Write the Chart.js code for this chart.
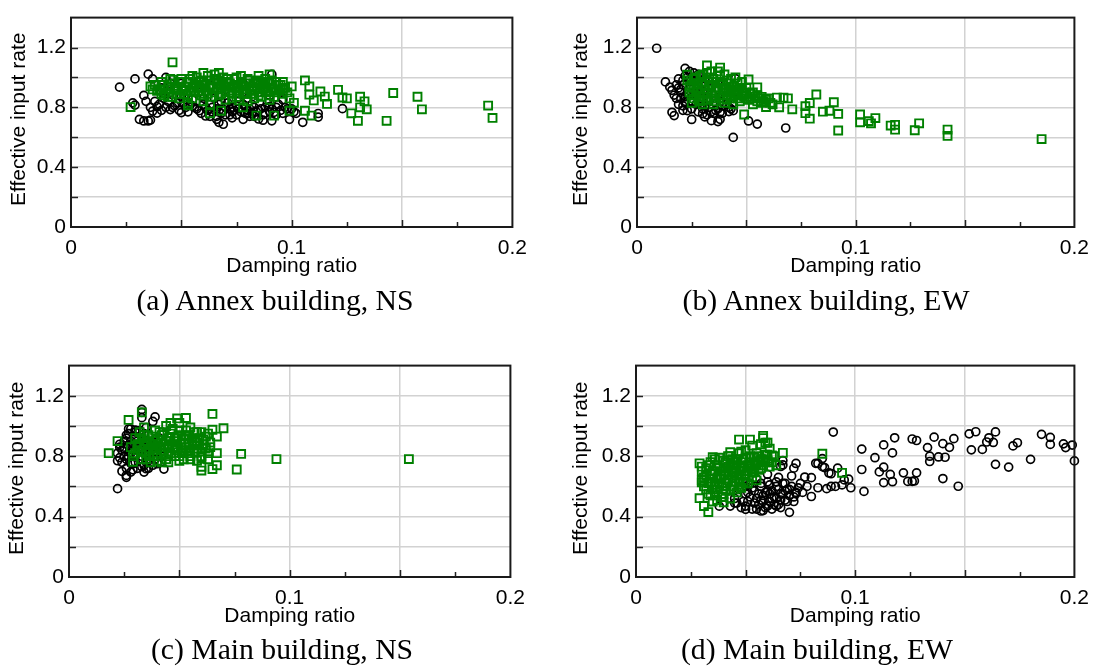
<!DOCTYPE html>
<html>
<head>
<meta charset="utf-8">
<script src="https://cdn.jsdelivr.net/npm/chart.js@4.4.1/dist/chart.umd.min.js"></script>
<style>
  body { margin: 0; background: #fff; width: 1101px; height: 668px; position: relative; overflow: hidden; }
  .panel { position: absolute; }
  .caption {
    position: absolute;
    font-family: "Liberation Serif", "Times New Roman", serif;
    font-size: 29.7px;
    line-height: 32px;
    white-space: nowrap;
    color: #000;
    transform: translateX(-50%);
  }
</style>
</head>
<body>
<div class="panel" id="pa"><canvas id="ca"></canvas></div>
<div class="panel" id="pb"><canvas id="cb"></canvas></div>
<div class="panel" id="pc"><canvas id="cc"></canvas></div>
<div class="panel" id="pd"><canvas id="cd"></canvas></div>
<div class="caption" style="left:275px;top:283.5px">(a) Annex building, NS</div>
<div class="caption" style="left:826px;top:283.5px">(b) Annex building, EW</div>
<div class="caption" style="left:282px;top:632.5px">(c) Main building, NS</div>
<div class="caption" style="left:817px;top:632.5px">(d) Main building, EW</div>
<script>
// tick labels
const xTickLabels = ["0", "0.1", "0.2"]
const yTickLabels = ["0", "0.4", "0.8", "1.2"]
const xTitle = "Damping ratio"
const yTitle = "Effective input rate"

// (a) Annex building, NS  -- [damping ratio, effective input rate]
const annexNsBlack = [
  [0.022,0.935],[0.029,0.99],[0.035,1.022],[0.028,0.83],[0.029,0.815],[0.033,0.88],[0.034,0.84],[0.031,0.72],
  [0.033,0.709],[0.035,0.709],[0.036,0.715],[0.037,0.775],[0.039,0.805],[0.039,0.762],[0.037,0.99],[0.043,1.0],
  [0.045,0.785],[0.046,0.8],[0.05,0.765],[0.055,0.809],[0.058,0.778],[0.061,0.742],[0.066,0.72],[0.067,0.7],
  [0.069,0.687],[0.073,0.8],[0.076,0.84],[0.078,0.72],[0.08,0.757],[0.083,0.74],[0.085,0.722],[0.087,0.714],
  [0.09,0.805],[0.092,0.767],[0.091,0.71],[0.099,0.72],[0.105,0.7],[0.112,0.735],[0.112,0.759],[0.123,0.791],
  [0.091,1.02],[0.04,0.82],[0.042,0.86],[0.045,0.9],[0.048,0.83],[0.05,0.87],[0.052,0.8],[0.055,0.85],
  [0.057,0.79],[0.06,0.82],[0.062,0.78],[0.064,0.8],[0.065,0.86],[0.068,0.76],[0.07,0.8],[0.071,0.83],
  [0.072,0.75],[0.074,0.78],[0.075,0.81],[0.077,0.77],[0.079,0.8],[0.08,0.78],[0.082,0.82],[0.084,0.77],
  [0.086,0.79],[0.088,0.76],[0.089,0.83],[0.093,0.8],[0.095,0.78],[0.096,0.85],[0.098,0.79],[0.101,0.77],
  [0.058,0.9],[0.063,0.95],[0.07,0.92],[0.078,0.96],[0.085,0.9],[0.05,0.96],[0.045,0.96],[0.041,0.93],
  [0.066,0.74],[0.073,0.73],[0.081,0.74],
  [0.041,0.78],[0.043,0.8],[0.044,0.84],[0.047,0.81],[0.049,0.78],[0.051,0.83],[0.053,0.77],[0.054,0.82],
  [0.056,0.8],[0.059,0.76],[0.061,0.8],[0.063,0.74],[0.064,0.77],[0.066,0.79],[0.067,0.82],[0.069,0.78],
  [0.07,0.75],[0.072,0.79],[0.073,0.77],[0.075,0.75],[0.076,0.79],[0.078,0.82],[0.079,0.76],[0.081,0.79],
  [0.082,0.76],[0.083,0.8],[0.085,0.78],[0.087,0.75],[0.088,0.8],[0.09,0.77],[0.091,0.79],[0.093,0.75],
  [0.094,0.82],[0.096,0.76],[0.097,0.8],[0.1,0.79],[0.102,0.76],[0.06,0.86],[0.068,0.84],[0.08,0.86],
  [0.09,0.88],[0.095,0.9],[0.048,0.88],[0.038,0.84],[0.036,0.8]
]
const annexNsGreen = [
  [0.046,1.101],[0.027,0.802],[0.036,0.94],[0.046,0.984],[0.106,0.98],[0.108,0.94],[0.108,0.885],[0.113,0.906],
  [0.11,0.846],[0.115,0.872],[0.116,0.823],[0.106,0.777],[0.109,0.745],[0.1,0.94],[0.101,0.83],[0.099,0.777],
  [0.121,0.917],[0.123,0.866],[0.125,0.86],[0.127,0.76],[0.131,0.871],[0.131,0.8],[0.133,0.84],[0.134,0.787],
  [0.13,0.71],[0.143,0.71],[0.146,0.896],[0.157,0.871],[0.159,0.787],[0.189,0.812],[0.191,0.729],[0.09,1.02],
  [0.084,0.745],[0.092,0.745],[0.076,0.846],[0.078,0.8],[0.068,0.777],[0.063,0.76],[0.053,0.814],[0.06,1.03],
  [0.067,1.03],[0.096,0.925],[0.038,0.95],[0.04,0.92],[0.041,0.97],[0.043,0.9],[0.044,0.94],[0.046,0.87],
  [0.047,0.96],[0.048,0.92],[0.05,0.99],[0.051,0.89],[0.052,0.94],[0.053,0.97],[0.054,0.91],[0.055,0.86],
  [0.056,0.95],[0.057,1.0],[0.058,0.93],[0.059,0.88],[0.06,0.97],[0.061,0.91],[0.062,1.01],[0.063,0.94],
  [0.064,0.87],[0.065,0.98],[0.066,0.92],[0.067,0.96],[0.068,0.89],[0.069,1.0],[0.07,0.94],[0.071,0.97],
  [0.072,0.9],[0.073,0.93],[0.074,0.99],[0.075,0.87],[0.076,0.95],[0.077,1.01],[0.078,0.92],[0.079,0.96],
  [0.08,0.89],[0.081,0.98],[0.082,0.94],[0.083,0.91],[0.084,0.97],[0.085,0.88],[0.086,0.95],[0.087,0.92],
  [0.088,0.99],[0.089,0.9],[0.09,0.96],[0.091,0.93],[0.092,0.87],[0.093,0.97],[0.094,0.91],[0.095,0.95],
  [0.096,0.89],[0.097,0.93],[0.049,0.86],[0.06,0.84],[0.07,0.85],[0.08,0.84],[0.09,0.85],[0.045,0.99],
  [0.055,1.01],[0.065,1.02],[0.075,1.0],[0.085,1.01],[0.042,0.88],[0.053,0.83],[0.063,0.82],[0.073,0.86],
  [0.083,0.86],[0.058,0.97],[0.068,0.93],[0.078,0.89],[0.088,0.94],[0.05,0.93],
  [0.039,0.91],[0.042,0.95],[0.044,0.87],[0.047,0.93],[0.049,0.97],[0.051,0.92],[0.053,0.88],[0.054,0.99],
  [0.056,0.9],[0.057,0.94],[0.059,0.98],[0.061,0.95],[0.062,0.89],[0.064,0.93],[0.065,0.9],[0.066,0.99],
  [0.067,0.88],[0.069,0.95],[0.07,0.91],[0.071,0.99],[0.072,0.96],[0.073,0.89],[0.074,0.94],[0.076,0.91],
  [0.077,0.97],[0.078,0.94],[0.079,0.9],[0.08,0.99],[0.081,0.92],[0.082,0.89],[0.083,0.96],[0.084,0.93],
  [0.085,0.98],[0.086,0.9],[0.087,0.96],[0.088,0.91],[0.089,0.97],[0.09,0.88],[0.091,0.98],[0.092,0.92],
  [0.093,0.9],[0.094,0.95],[0.095,0.92],[0.096,0.97],[0.045,0.92],[0.048,0.89],[0.052,0.91],[0.055,0.93],
  [0.058,0.91],[0.06,0.88],[0.063,0.98],[0.068,0.97],[0.075,0.93],[0.086,0.87],[0.098,0.9],[0.099,0.86],
  [0.041,0.89],[0.037,0.92]
]

// (b) Annex building, EW
const annexEwBlack = [
  [0.009,1.195],[0.013,0.97],[0.015,0.935],[0.016,0.914],[0.017,0.882],[0.018,0.86],[0.016,0.767],[0.017,0.745],
  [0.022,0.83],[0.023,0.778],[0.025,0.719],[0.022,1.061],[0.024,1.04],[0.018,0.95],[0.02,0.92],[0.03,0.757],
  [0.031,0.736],[0.034,0.711],[0.037,0.705],[0.038,0.767],[0.042,0.772],[0.044,0.778],[0.045,0.992],[0.044,0.599],
  [0.051,0.709],[0.055,0.688],[0.068,0.662],[0.038,0.72],[0.021,0.81],[0.028,1.02],
  [0.019,0.99],[0.02,0.9],[0.021,0.95],[0.022,0.87],[0.023,1.0],[0.024,0.93],[0.025,0.84],[0.026,0.97],
  [0.027,0.89],[0.028,0.94],[0.029,0.82],[0.03,0.91],[0.031,0.99],[0.032,0.86],[0.033,0.8],[0.034,0.93],
  [0.035,0.88],[0.036,0.78],[0.037,0.96],[0.038,0.84],[0.039,0.81],[0.04,0.9],[0.042,0.8],[0.044,0.86],
  [0.019,0.82],[0.021,0.78],[0.026,1.03],[0.03,0.79],[0.034,0.77],[0.022,1.01],
  [0.019,0.93],[0.02,0.86],[0.021,0.98],[0.022,0.84],[0.023,0.9],[0.024,0.97],[0.025,0.79],[0.026,0.9],
  [0.027,0.82],[0.028,0.77],[0.029,0.86],[0.031,0.81],[0.032,0.75],[0.033,0.84],[0.035,0.76],[0.037,0.79],
  [0.039,0.76],[0.041,0.82],[0.043,0.79]
]
const annexEwGreen = [
  [0.032,1.08],[0.038,1.066],[0.023,1.018],[0.051,0.986],[0.055,0.934],[0.049,0.752],[0.059,0.802],[0.061,0.83],
  [0.064,0.865],[0.067,0.865],[0.069,0.86],[0.071,0.787],[0.065,0.8],[0.077,0.808],[0.077,0.761],[0.079,0.829],
  [0.079,0.724],[0.082,0.886],[0.085,0.771],[0.088,0.777],[0.09,0.834],[0.092,0.756],[0.092,0.645],[0.102,0.752],
  [0.102,0.7],[0.106,0.708],[0.107,0.693],[0.109,0.728],[0.116,0.678],[0.118,0.683],[0.118,0.651],[0.127,0.647],
  [0.129,0.693],[0.142,0.651],[0.142,0.609],[0.185,0.588],[0.057,0.87],
  [0.023,0.98],[0.024,0.9],[0.025,0.95],[0.026,0.86],[0.027,1.0],[0.028,0.92],[0.029,0.84],[0.03,0.97],
  [0.031,0.89],[0.032,1.03],[0.033,0.94],[0.034,0.86],[0.035,0.99],[0.036,0.91],[0.037,1.04],[0.038,0.88],
  [0.039,0.95],[0.04,0.83],[0.041,0.98],[0.042,0.9],[0.043,0.86],[0.044,0.94],[0.045,0.88],[0.046,0.96],
  [0.047,0.84],[0.048,0.91],[0.049,0.87],[0.05,0.93],[0.051,0.85],[0.052,0.89],[0.053,0.82],[0.054,0.87],
  [0.055,0.84],[0.056,0.86],[0.058,0.84],[0.06,0.86],[0.062,0.82],[0.03,0.82],[0.035,0.82],[0.026,0.93],
  [0.031,0.95],[0.036,0.97],[0.041,0.93],[0.046,0.9],[0.029,0.9],[0.034,0.9],[0.039,0.9],[0.044,0.82],
  [0.033,1.0],[0.038,1.01],[0.043,0.99],[0.025,0.83],[0.048,0.97],[0.027,0.96],
  [0.024,0.94],[0.026,0.99],[0.027,0.88],[0.028,0.96],[0.029,1.01],[0.03,0.87],[0.031,0.92],[0.032,0.85],
  [0.033,0.97],[0.034,0.95],[0.035,0.86],[0.036,0.88],[0.037,0.93],[0.038,0.97],[0.039,0.86],[0.04,0.92],
  [0.041,0.88],[0.042,0.96],[0.043,0.92],[0.044,0.89],[0.045,0.92],[0.046,0.86],[0.047,0.93],[0.048,0.88],
  [0.049,0.9],[0.05,0.86],[0.052,0.86],[0.053,0.9],[0.055,0.88],[0.057,0.83],[0.059,0.85],[0.03,1.02],
  [0.034,1.04],[0.04,1.02],[0.045,1.0],[0.028,0.85],[0.032,0.9],[0.036,0.84],[0.041,0.85],[0.05,0.89],
  [0.025,0.88]
]

// (c) Main building, NS
const mainNsBlack = [
  [0.022,0.585],[0.026,0.66],[0.024,0.7],[0.026,0.673],[0.028,0.695],[0.033,1.11],[0.033,1.09],[0.033,1.055],
  [0.039,1.06],[0.038,1.03],[0.022,0.77],[0.023,0.79],[0.022,0.82],[0.023,0.86],[0.023,0.879],[0.026,0.94],
  [0.03,0.973],[0.034,0.695],[0.043,0.715],[0.035,0.717],[0.028,0.753],
  [0.024,0.84],[0.025,0.9],[0.026,0.78],[0.027,0.95],[0.028,0.82],[0.029,0.88],[0.03,0.76],[0.03,0.93],
  [0.031,0.85],[0.032,0.97],[0.033,0.8],[0.033,0.9],[0.034,0.74],[0.035,0.86],[0.036,0.94],[0.037,0.78],
  [0.038,0.89],[0.039,0.83],[0.04,0.75],[0.041,0.92],[0.026,0.72],[0.028,0.98],[0.031,0.72],[0.036,0.72],
  [0.025,0.8],[0.027,0.87],[0.029,0.75],[0.035,0.99],[0.042,0.8],[0.045,0.85],
  [0.024,0.76],[0.025,0.86],[0.026,0.92],[0.027,0.8],[0.028,0.9],[0.029,0.84],[0.03,0.8],[0.031,0.9],
  [0.032,0.83],[0.032,0.78],[0.034,0.82],[0.034,0.95],[0.035,0.76],[0.036,0.89],[0.037,0.84],[0.038,0.74],
  [0.039,0.78],[0.04,0.83],[0.03,0.96],[0.027,0.98],[0.033,0.73],[0.029,0.71]
]
const mainNsGreen = [
  [0.018,0.82],[0.022,0.9],[0.027,1.04],[0.033,1.09],[0.065,1.08],[0.07,0.985],[0.065,0.975],[0.067,0.93],
  [0.067,0.82],[0.067,0.74],[0.065,0.715],[0.06,0.705],[0.076,0.712],[0.078,0.815],[0.094,0.781],[0.154,0.781],
  [0.053,1.053],[0.049,1.05],[0.046,1.02],[0.06,0.73],[0.063,0.78],[0.029,0.763],
  [0.028,0.86],[0.029,0.8],[0.03,0.92],[0.031,0.84],[0.032,0.96],[0.033,0.78],[0.034,0.88],[0.035,0.82],
  [0.036,0.94],[0.037,0.76],[0.038,0.86],[0.039,0.9],[0.04,0.8],[0.041,0.96],[0.042,0.84],[0.043,0.88],
  [0.044,0.78],[0.045,0.92],[0.046,0.82],[0.047,0.98],[0.048,0.86],[0.049,0.9],[0.05,0.8],[0.051,0.94],
  [0.052,0.84],[0.053,0.97],[0.054,0.88],[0.055,0.78],[0.056,0.92],[0.057,0.83],[0.058,0.96],[0.059,0.87],
  [0.06,0.8],[0.061,0.91],[0.062,0.85],[0.063,0.95],[0.064,0.89],[0.033,0.92],[0.036,0.84],[0.039,0.97],
  [0.042,0.76],[0.045,0.86],[0.048,0.8],[0.051,0.88],[0.054,0.82],[0.057,0.9],[0.06,0.96],[0.034,0.99],
  [0.04,0.87],[0.046,0.9],[0.052,0.78],[0.058,0.77],[0.044,1.0],[0.05,1.02],[0.055,0.99],[0.038,0.8],
  [0.031,0.88],
  [0.03,0.82],[0.032,0.86],[0.033,0.83],[0.034,0.94],[0.035,0.9],[0.036,0.8],[0.037,0.88],[0.038,0.93],
  [0.039,0.84],[0.04,0.91],[0.041,0.86],[0.042,0.94],[0.043,0.82],[0.044,0.9],[0.045,0.8],[0.046,0.95],
  [0.047,0.86],[0.048,0.92],[0.049,0.84],[0.05,0.97],[0.051,0.82],[0.052,0.91],[0.053,0.86],[0.054,0.94],
  [0.055,0.84],[0.056,0.88],[0.057,0.96],[0.058,0.85],[0.059,0.92],[0.06,0.83],[0.061,0.88],[0.062,0.93],
  [0.063,0.82],[0.064,0.86],[0.035,0.78],[0.04,0.77],[0.045,0.76],[0.05,0.77],[0.055,0.8],[0.06,0.79],
  [0.047,0.88],[0.043,0.96],[0.053,0.93],[0.058,0.89],[0.038,0.88],[0.049,0.93]
]

// (d) Main building, EW
const mainEwBlack = [
  [0.09,0.96],[0.103,0.847],[0.103,0.712],[0.104,0.567],[0.109,0.79],[0.113,0.875],[0.113,0.727],[0.111,0.696],
  [0.113,0.625],[0.116,0.679],[0.117,0.822],[0.118,0.922],[0.117,0.631],[0.122,0.69],[0.124,0.633],[0.126,0.914],
  [0.128,0.904],[0.126,0.633],[0.127,0.636],[0.128,0.69],[0.133,0.857],[0.134,0.8],[0.134,0.765],[0.136,0.926],
  [0.138,0.795],[0.14,0.652],[0.14,0.883],[0.141,0.793],[0.143,0.859],[0.145,0.916],[0.147,0.601],[0.152,0.948],
  [0.153,0.842],[0.155,0.962],[0.158,0.845],[0.16,0.894],[0.161,0.922],[0.163,0.891],[0.164,0.961],[0.164,0.746],
  [0.17,0.728],[0.172,0.868],[0.174,0.889],[0.18,0.779],[0.185,0.945],[0.189,0.925],[0.189,0.878],[0.195,0.882],
  [0.196,0.857],[0.199,0.874],[0.2,0.769],
  [0.098,0.591],[0.095,0.643],[0.094,0.61],[0.091,0.6],[0.089,0.6],[0.087,0.585],[0.083,0.591],[0.097,0.648],
  [0.089,0.684],[0.085,0.784],[0.086,0.725],[0.082,0.753],[0.08,0.533],[0.08,0.658],[0.077,0.662],[0.072,0.721],
  [0.071,0.669],[0.066,0.732],[0.067,0.771],[0.073,0.553],[0.07,0.428],[0.038,0.469],[0.045,0.49],[0.05,0.448],
  [0.057,0.437],[0.064,0.469],[0.067,0.742],[0.073,0.752],[0.092,0.721],[0.083,0.752],[0.085,0.731],[0.088,0.689],
  [0.045,0.52],[0.047,0.58],[0.048,0.46],[0.05,0.55],[0.051,0.5],[0.052,0.62],[0.053,0.45],[0.054,0.57],
  [0.055,0.52],[0.056,0.48],[0.057,0.6],[0.058,0.54],[0.059,0.46],[0.06,0.63],[0.061,0.5],[0.062,0.57],
  [0.063,0.53],[0.064,0.6],[0.065,0.48],[0.066,0.55],[0.067,0.62],[0.068,0.51],[0.069,0.58],[0.07,0.54],
  [0.071,0.6],[0.072,0.5],[0.073,0.56],[0.05,0.6],[0.055,0.65],[0.06,0.68],[0.065,0.66],[0.058,0.44],
  [0.062,0.45],[0.066,0.46],[0.053,0.59],[0.057,0.51],[0.061,0.55],[0.064,0.52],[0.068,0.57],[0.074,0.59],
  [0.076,0.56],[0.049,0.5],[0.043,0.47],[0.046,0.49],
  [0.05,0.47],[0.052,0.53],[0.054,0.49],[0.056,0.55],[0.058,0.5],[0.06,0.57],[0.062,0.52],[0.063,0.48],
  [0.065,0.58],[0.066,0.51],[0.067,0.55],[0.069,0.5],[0.07,0.58],[0.072,0.53],[0.06,0.47],[0.055,0.45],
  [0.051,0.56],[0.064,0.63],[0.068,0.62],[0.061,0.61],[0.059,0.56],[0.057,0.62],[0.075,0.62],[0.078,0.6]
]
const mainEwGreen = [
  [0.085,0.816],[0.094,0.69],[0.067,0.822],[0.058,0.92],[0.052,0.91],[0.047,0.91],[0.059,0.89],[0.029,0.753],
  [0.03,0.731],[0.03,0.627],[0.029,0.522],[0.031,0.47],[0.033,0.43],[0.04,0.495],[0.061,0.731],[0.058,0.935],
  [0.06,0.889],[0.062,0.805],[0.035,0.794],[0.043,0.826],
  [0.03,0.7],[0.031,0.6],[0.032,0.67],[0.033,0.74],[0.033,0.55],[0.034,0.63],[0.035,0.7],[0.035,0.5],
  [0.036,0.78],[0.037,0.58],[0.037,0.66],[0.038,0.72],[0.039,0.53],[0.039,0.62],[0.04,0.77],[0.04,0.68],
  [0.041,0.57],[0.042,0.64],[0.042,0.73],[0.043,0.8],[0.043,0.52],[0.044,0.6],[0.045,0.69],[0.045,0.76],
  [0.046,0.56],[0.047,0.65],[0.047,0.82],[0.048,0.72],[0.048,0.59],[0.049,0.78],[0.05,0.67],[0.05,0.84],
  [0.051,0.62],[0.051,0.74],[0.052,0.8],[0.053,0.69],[0.053,0.87],[0.054,0.75],[0.055,0.64],[0.055,0.82],
  [0.056,0.71],[0.057,0.78],[0.057,0.88],[0.058,0.74],[0.059,0.81],[0.06,0.77],[0.061,0.85],[0.062,0.76],
  [0.063,0.8],[0.064,0.74],[0.034,0.68],[0.036,0.61],[0.038,0.65],[0.041,0.7],[0.044,0.66],[0.046,0.72],
  [0.049,0.7],[0.052,0.73],[0.054,0.7],[0.056,0.76],[0.032,0.58],[0.036,0.54],[0.04,0.6],[0.044,0.78],
  [0.048,0.83],[0.03,0.64],
  [0.031,0.66],[0.032,0.72],[0.033,0.62],[0.034,0.76],[0.035,0.58],[0.035,0.65],[0.036,0.7],[0.037,0.74],
  [0.038,0.6],[0.038,0.79],[0.039,0.67],[0.04,0.72],[0.041,0.62],[0.041,0.76],[0.042,0.68],[0.043,0.58],
  [0.043,0.74],[0.044,0.7],[0.045,0.63],[0.046,0.78],[0.046,0.67],[0.047,0.7],[0.048,0.76],[0.049,0.63],
  [0.049,0.73],[0.05,0.79],[0.051,0.7],[0.052,0.76],[0.053,0.72],[0.054,0.79],[0.055,0.74],[0.056,0.8],
  [0.057,0.72],[0.058,0.78],[0.059,0.76],[0.06,0.81],[0.037,0.51],[0.034,0.54],[0.04,0.55],[0.045,0.58],
  [0.05,0.62],[0.039,0.7],[0.044,0.74],[0.048,0.68],[0.053,0.66],[0.042,0.8],[0.047,0.6]
]

const sansFont = "'Liberation Sans', Arial, sans-serif"
const green = "rgb(0,128,0)"

// frame box, inward tick marks and the rotated y title
const framePlugin = {
  id: "frame",
  afterDraw(chart, args, opts) {
    const { ctx, chartArea: a, scales: { x, y } } = chart
    ctx.save()
    ctx.strokeStyle = "#222"
    ctx.lineWidth = 1.5
    ctx.beginPath()
    x.ticks.forEach((t) => {
      const i = Math.round(t.value / 0.025)
      if (i === 0 || i === 8) return
      const px = Math.round(x.getPixelForValue(t.value)) + 0.5
      const len = i % 2 === 0 ? 7 : 5
      ctx.moveTo(px, a.bottom)
      ctx.lineTo(px, a.bottom - len)
    })
    y.ticks.forEach((t) => {
      const i = Math.round(t.value / 0.2)
      if (i === 0 || i === 7) return
      const py = Math.round(y.getPixelForValue(t.value)) + 0.5
      ctx.moveTo(a.left, py)
      ctx.lineTo(a.left + 7, py)
    })
    ctx.stroke()
    ctx.lineWidth = 2
    ctx.strokeStyle = "#1a1a1a"
    ctx.strokeRect(a.left, a.top, a.right - a.left, a.bottom - a.top)

    ctx.translate(opts.titleX, (a.top + a.bottom) / 2 - 3)
    ctx.rotate(-Math.PI / 2)
    ctx.fillStyle = "#000"
    ctx.font = "21px " + sansFont
    ctx.textAlign = "center"
    ctx.textBaseline = "middle"
    ctx.fillText(yTitle, 0, 0)
    ctx.restore()
  },
}

function makePanel(id, box, black, greens, titleX) {
  const yW = box.L - box.left
  const wrap = document.getElementById("p" + id)
  wrap.style.left = box.left + "px"
  wrap.style.top = box.top + "px"
  wrap.style.width = (box.R + 20 - box.left) + "px"
  wrap.style.height = (box.B + 62 - box.top) + "px"

  new Chart(document.getElementById("c" + id), {
    type: "scatter",
    data: {
      datasets: [
        {
          data: greens.map((p) => ({ x: p[0], y: p[1] })),
          pointStyle: "rect",
          pointRadius: 5.6,
          pointBorderWidth: 1.9,
          pointBorderColor: green,
          pointBackgroundColor: "rgba(0,0,0,0)",
          clip: false,
        },
        {
          data: black.map((p) => ({ x: p[0], y: p[1] })),
          pointStyle: "circle",
          pointRadius: 4,
          pointBorderWidth: 1.7,
          pointBorderColor: "#000",
          pointBackgroundColor: "rgba(0,0,0,0)",
          clip: false,
        },
      ],
    },
    options: {
      animation: false,
      responsive: true,
      maintainAspectRatio: false,
      events: [],
      layout: { padding: { top: box.T - box.top, right: 20, left: 0, bottom: 0 } },
      plugins: { legend: { display: false }, tooltip: { enabled: false }, frame: { titleX: titleX } },
      scales: {
        x: {
          type: "linear",
          min: 0,
          max: 0.2,
          afterFit: (s) => { s.height = 62 },
          border: { display: false },
          grid: {
            drawTicks: false,
            lineWidth: 1.5,
            color: (c) => {
              const i = Math.round(c.tick.value / 0.025)
              return i % 2 === 0 && i > 0 && i < 8 ? "#d2d2d2" : "rgba(0,0,0,0)"
            },
          },
          ticks: {
            stepSize: 0.025,
            autoSkip: false,
            maxRotation: 0,
            padding: 9,
            color: "#000",
            font: { family: sansFont, size: 21 },
            callback: (v) => {
              const i = Math.round(v / 0.025)
              return i % 4 === 0 ? xTickLabels[i / 4] : ""
            },
          },
          title: {
            display: true,
            text: xTitle,
            color: "#000",
            font: { family: sansFont, size: 21 },
            padding: { top: 0, bottom: 10 },
          },
        },
        y: {
          type: "linear",
          min: 0,
          max: 1.4,
          afterFit: (s) => { s.width = yW },
          border: { display: false },
          grid: {
            drawTicks: false,
            lineWidth: 1.5,
            color: (c) => {
              const i = Math.round(c.tick.value / 0.2)
              return i > 0 && i < 7 ? "#d2d2d2" : "rgba(0,0,0,0)"
            },
          },
          ticks: {
            stepSize: 0.2,
            autoSkip: false,
            padding: 5,
            color: "#000",
            font: { family: sansFont, size: 21 },
            callback: (v) => {
              const i = Math.round(v / 0.2)
              return i % 2 === 0 && i / 2 < yTickLabels.length ? yTickLabels[i / 2] : ""
            },
          },
        },
      },
    },
    plugins: [framePlugin],
  })
}

makePanel("a", { left: 0, top: 0, L: 71, R: 516, T: 5, B: 227 }, annexNsBlack, annexNsGreen, 19.3)
makePanel("b", { left: 560, top: 0, L: 637, R: 1078, T: 5, B: 227 }, annexEwBlack, annexEwGreen, 21.5)
makePanel("c", { left: 0, top: 348, L: 69, R: 514, T: 354, B: 577 }, mainNsBlack, mainNsGreen, 17.5)
makePanel("d", { left: 560, top: 348, L: 636, R: 1078, T: 354, B: 577 }, mainEwBlack, mainEwGreen, 21.2)
</script>
</body>
</html>
